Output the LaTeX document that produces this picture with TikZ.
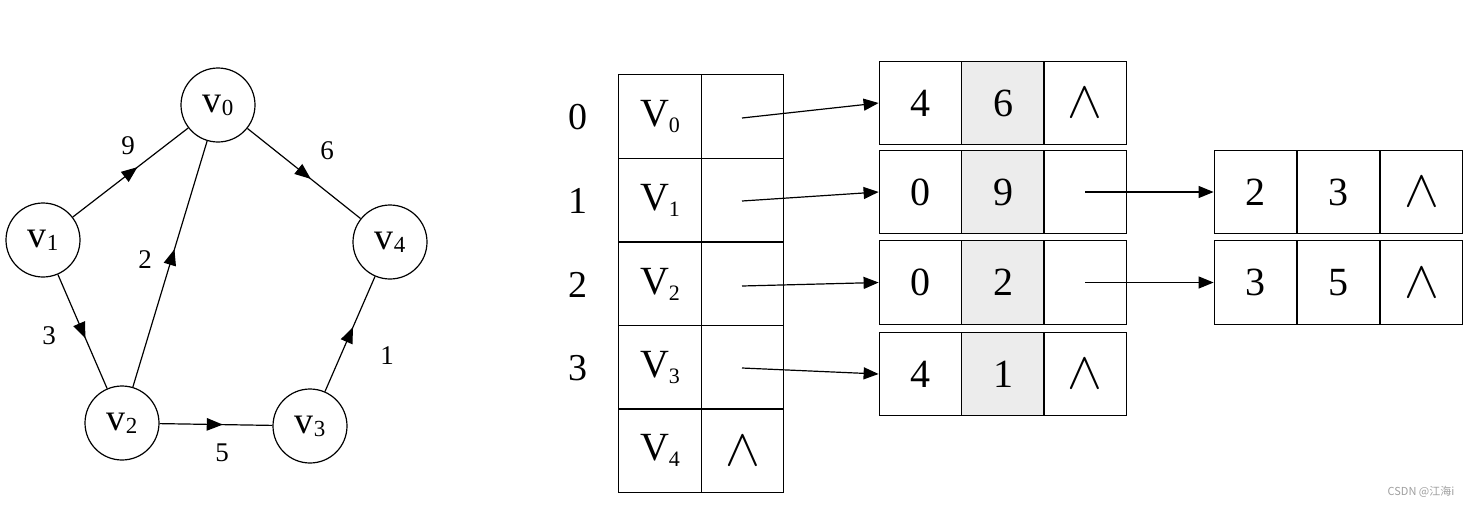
\documentclass[tikz,border=0pt]{standalone}
\usepackage{fontspec}
\setmainfont{Liberation Serif}
\newfontfamily\wmfont{Noto Sans CJK SC}
\usetikzlibrary{arrows.meta,decorations.markings}
\newcommand{\mygv}[1]{v\raisebox{-3pt}{\fontsize{23}{23}\selectfont #1}}
\newcommand{\mytv}[1]{V\raisebox{-6pt}{\fontsize{22}{22}\selectfont #1}}
\newcommand{\mynil}{\scalebox{2.1}{$\wedge$}}
\begin{document}
\begin{tikzpicture}[x=1pt,y=-1pt,
  vert/.style={circle,draw,line width=1.2pt,minimum size=74pt,inner sep=0pt,font=\fontsize{38}{38}\selectfont},
  gedge/.style={line width=1.2pt,postaction={decorate},
    decoration={markings,mark=at position 0.56 with {\arrow{Triangle[length=16pt,width=12.5pt]}}}},
  wlabel/.style={inner sep=0pt,font=\fontsize{27}{27}\selectfont},
  idx/.style={inner sep=0pt,font=\fontsize{38}{38}\selectfont},
  cell/.style={draw,line width=1.3pt,minimum width=82.5pt,minimum height=83.5pt,inner sep=0pt,font=\fontsize{40}{40}\selectfont},
  gcell/.style={cell,fill=gray!15},
  ptr/.style={line width=1.2pt,-{Triangle[length=15pt,width=12pt]}}]
\useasboundingbox (0,0) rectangle (1475,507);
% ---- graph ----
\node[vert] (v0) at (218,105) {\mygv{0}};
\node[vert] (v1) at (43,240) {\mygv{1}};
\node[vert] (v4) at (390,242) {\mygv{4}};
\node[vert] (v2) at (122,423) {\mygv{2}};
\node[vert] (v3) at (310,426) {\mygv{3}};
\draw[gedge] (v1) -- (v0);
\draw[gedge] (v0) -- (v4);
\draw[gedge] (v1) -- (v2);
\draw[gedge] (v2) -- (v0);
\draw[gedge] (v2) -- (v3);
\draw[gedge] (v3) -- (v4);
\node[wlabel] (w9) at (128,146) {9};
\node[wlabel] (w6) at (327,151) {6};
\node[wlabel] (w2) at (145,260) {2};
\node[wlabel] (w3) at (49,336) {3};
\node[wlabel] (w1) at (387,356) {1};
\node[wlabel] (w5) at (222,453) {5};
% ---- vertex table ----
\node[idx] (i0) at (578,117) {0};
\node[idx] (i1) at (578,201) {1};
\node[idx] (i2) at (578,285) {2};
\node[idx] (i3) at (578,368) {3};
\node[cell] (a0) at (660,116.5) {\mytv{0}};
\node[cell] (p0) at (742.5,116.5) {};
\node[cell] (a1) at (660,200) {\mytv{1}};
\node[cell] (p1) at (742.5,200) {};
\node[cell] (a2) at (660,284) {\mytv{2}};
\node[cell] (p2) at (742.5,284) {};
\node[cell] (a3) at (660,367.5) {\mytv{3}};
\node[cell] (p3) at (742.5,367.5) {};
\node[cell] (a4) at (660,450.5) {\mytv{4}};
\node[cell] (p4) at (742.5,450.5) {\mynil};
% ---- edge nodes, first column ----
\node[cell] (b0a) at (920.5,103) {4};
\node[gcell] (b0b) at (1003,103) {6};
\node[cell] (b0c) at (1085,103) {\mynil};
\node[cell] (b1a) at (920.5,192) {0};
\node[gcell] (b1b) at (1003,192) {9};
\node[cell] (b1c) at (1085,192) {};
\node[cell] (b2a) at (920.5,282.5) {0};
\node[gcell] (b2b) at (1003,282.5) {2};
\node[cell] (b2c) at (1085,282.5) {};
\node[cell] (b3a) at (920.5,374) {4};
\node[gcell] (b3b) at (1003,374) {1};
\node[cell] (b3c) at (1085,374) {\mynil};
% ---- edge nodes, second column ----
\node[cell] (c1a) at (1255.5,192) {2};
\node[cell] (c1b) at (1338.5,192) {3};
\node[cell] (c1c) at (1421.5,192) {\mynil};
\node[cell] (c2a) at (1255.5,282.5) {3};
\node[cell] (c2b) at (1338.5,282.5) {5};
\node[cell] (c2c) at (1421.5,282.5) {\mynil};
% ---- pointers ----
\coordinate (s0) at (742,118);
\coordinate (s1) at (742,201);
\coordinate (s2) at (742,286);
\coordinate (s3) at (742,368);
\draw[ptr] (s0) -- (b0a.west);
\draw[ptr] (s1) -- (b1a.west);
\draw[ptr] (s2) -- (b2a.west);
\draw[ptr] (s3) -- (b3a.west);
\draw[ptr] (b1c.center) -- (c1a.west);
\draw[ptr] (b2c.center) -- (c2a.west);
% ---- watermark ----
\node[inner sep=0pt,text=gray!75,font=\wmfont\fontsize{11}{11}\selectfont] (wm) at (1421,492) {CSDN @江海i};
\end{tikzpicture}
\end{document}
